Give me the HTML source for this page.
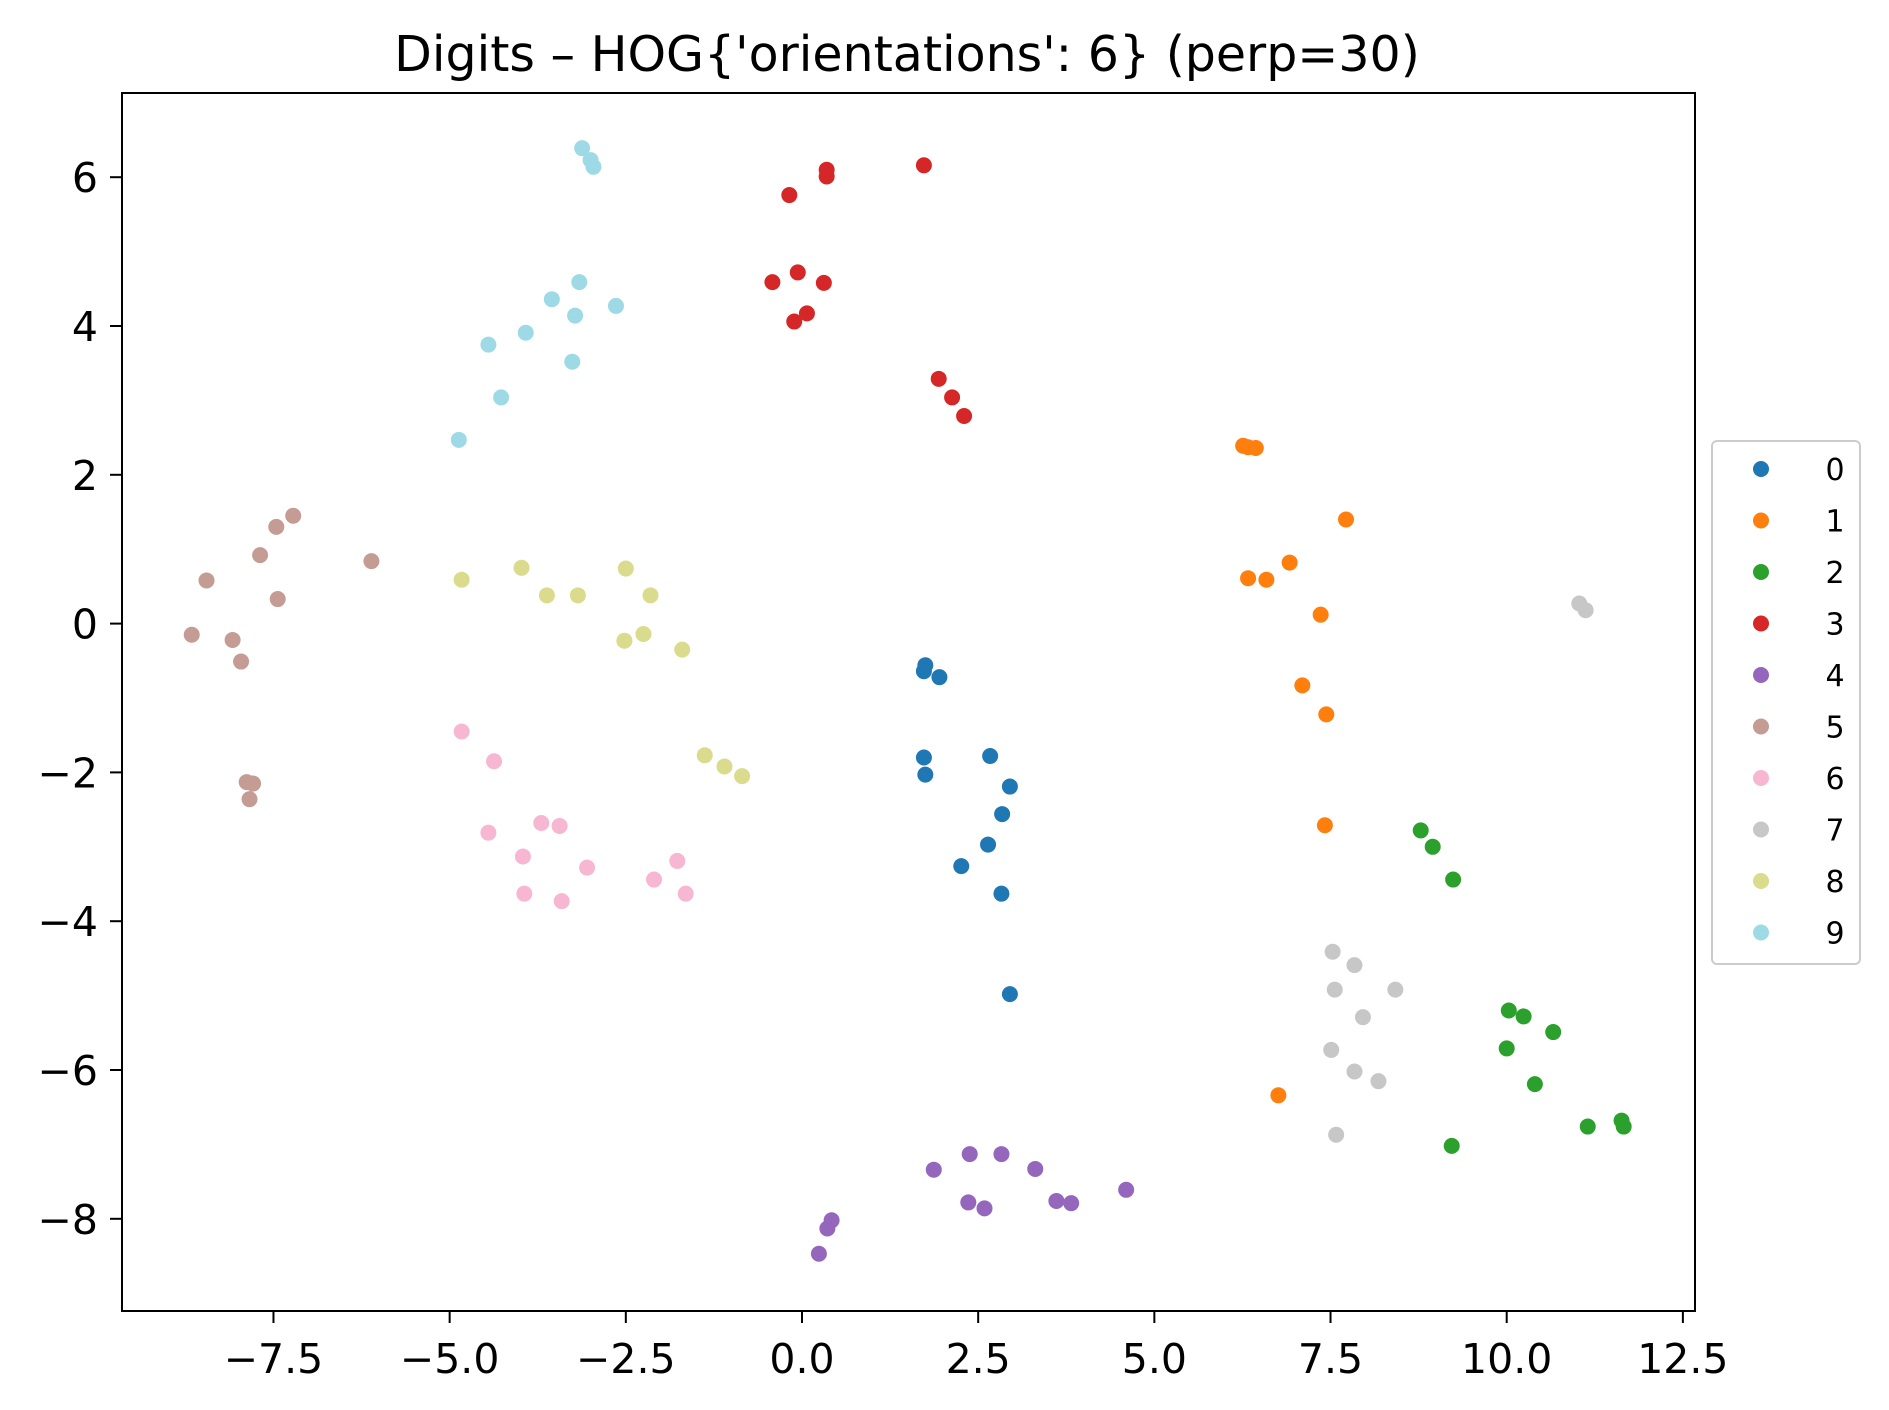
<!DOCTYPE html>
<html><head><meta charset="utf-8"><style>
html,body{margin:0;padding:0;background:#fff;}
svg{display:block;font-family:"DejaVu Sans","Liberation Sans",sans-serif;}
</style></head><body>
<svg id="chart" width="1889" height="1410" viewBox="0 0 1889 1410" xmlns="http://www.w3.org/2000/svg">
<rect width="1889" height="1410" fill="#fff"/>
<text x="907" y="71" font-size="49" text-anchor="middle" fill="#000">Digits – HOG{'orientations': 6} (perp=30)</text>
<g id="points"></g>
<rect x="122" y="93" width="1573" height="1218" fill="none" stroke="#000" stroke-width="2"/>
<g id="xticks"></g>
<g id="yticks"></g>
<g id="legend"></g>
</svg>
<script>
const classLabels = ['0','1','2','3','4','5','6','7','8','9'];
const colors = ['#1f77b4','#ff7f0e','#2ca02c','#d62728','#9467bd','#c49c94','#f7b6d2','#c7c7c7','#dbdb8d','#9edae5'];
const xTicks = [-7.5,-5.0,-2.5,0.0,2.5,5.0,7.5,10.0,12.5];
const yTicks = [6,4,2,0,-2,-4,-6,-8];
const xs0 = [1.75,1.73,1.95,1.73,1.75,2.67,2.95,2.84,2.64,2.26,2.83,2.95];
const ys0 = [-0.56,-0.64,-0.72,-1.8,-2.03,-1.78,-2.19,-2.56,-2.97,-3.26,-3.63,-4.98];
const xs1 = [6.26,6.33,6.44,7.72,6.33,6.59,6.92,7.36,7.1,7.44,7.42,6.76];
const ys1 = [2.39,2.37,2.36,1.4,0.61,0.59,0.82,0.12,-0.83,-1.22,-2.71,-6.34];
const xs2 = [8.78,8.95,9.24,10.03,10.24,10.66,10.0,10.4,11.15,11.63,11.66,9.22];
const ys2 = [-2.78,-3.0,-3.44,-5.2,-5.28,-5.49,-5.71,-6.19,-6.76,-6.68,-6.76,-7.02];
const xs3 = [0.35,0.35,1.73,-0.18,-0.42,-0.06,0.31,0.07,-0.11,1.94,2.13,2.30];
const ys3 = [6.1,6.01,6.16,5.76,4.59,4.72,4.58,4.17,4.06,3.29,3.04,2.79];
const xs4 = [1.87,2.38,2.83,3.31,2.36,2.59,3.61,3.82,4.6,0.42,0.36,0.24];
const ys4 = [-7.34,-7.13,-7.13,-7.33,-7.78,-7.86,-7.76,-7.79,-7.61,-8.02,-8.13,-8.47];
const xs5 = [-7.22,-7.46,-7.69,-8.45,-7.44,-6.11,-8.66,-8.08,-7.96,-7.88,-7.79,-7.84];
const ys5 = [1.45,1.3,0.92,0.58,0.33,0.84,-0.15,-0.22,-0.51,-2.13,-2.15,-2.36];
const xs6 = [-4.83,-4.37,-4.45,-3.7,-3.44,-3.96,-3.05,-3.94,-3.41,-1.77,-2.1,-1.65];
const ys6 = [-1.45,-1.85,-2.81,-2.68,-2.72,-3.13,-3.28,-3.63,-3.73,-3.19,-3.44,-3.63];
const xs7 = [11.03,11.12,7.53,7.84,7.56,8.42,7.96,7.51,7.84,8.18,7.58];
const ys7 = [0.27,0.18,-4.41,-4.59,-4.92,-4.92,-5.29,-5.73,-6.02,-6.15,-6.87];
const xs8 = [-4.83,-3.98,-2.5,-3.62,-3.18,-2.15,-2.25,-2.52,-1.7,-1.38,-1.1,-0.85];
const ys8 = [0.59,0.75,0.74,0.38,0.38,0.38,-0.14,-0.23,-0.35,-1.77,-1.92,-2.05];
const xs9 = [-3.12,-3.0,-2.96,-3.16,-3.55,-2.64,-3.22,-3.92,-4.45,-3.26,-4.27,-4.87];
const ys9 = [6.39,6.23,6.14,4.59,4.36,4.27,4.14,3.91,3.75,3.52,3.04,2.47];
const seriesX = [xs0,xs1,xs2,xs3,xs4,xs5,xs6,xs7,xs8,xs9];
const seriesY = [ys0,ys1,ys2,ys3,ys4,ys5,ys6,ys7,ys8,ys9];

const NS = 'http://www.w3.org/2000/svg';
const sx = v => 802 + v * 70.47;
const sy = v => 623.6 - v * 74.4;
function mk(tag, attrs, parent){ const e=document.createElementNS(NS,tag); for(const k in attrs) e.setAttribute(k,attrs[k]); parent.appendChild(e); return e; }

const pts = document.getElementById('points');
seriesX.forEach((xsArr, c) => {
  xsArr.forEach((xv, i) => {
    const p = mk('circle', {cx: sx(xv), cy: sy(seriesY[c][i]), r: 8, fill: colors[c]}, pts);
    
    
  });
});

const xg = document.getElementById('xticks');
xTicks.forEach(t => {
  const x = sx(t);
  const l = mk('line', {x1:x, y1:1311, x2:x, y2:1323, stroke:'#000', 'stroke-width':2}, xg);
  
  
  const tx = mk('text', {x:x, y:1373, 'font-size':41, 'text-anchor':'middle', fill:'#000'}, xg);
  tx.textContent = t.toFixed(1).replace('-', '−');
  
  
});
const yg = document.getElementById('yticks');
yTicks.forEach(t => {
  const y = sy(t);
  const l = mk('line', {x1:110, y1:y, x2:122, y2:y, stroke:'#000', 'stroke-width':2}, yg);
  
  
  const tx = mk('text', {x:98, y:y+15, 'font-size':41, 'text-anchor':'end', fill:'#000'}, yg);
  tx.textContent = String(t).replace('-', '−');
  
  
});

const lg = document.getElementById('legend');
const box = mk('rect', {x:1712, y:441, width:148, height:523, rx:5, fill:'#fff', stroke:'#ccc', 'stroke-width':2}, lg);


classLabels.forEach((lab, i) => {
  const y = 469 + i * 51.5;
  const m = mk('circle', {cx:1761, cy:y, r:8, fill:colors[i]}, lg);
  
  
  const tx = mk('text', {x:1835, y:y+11, 'font-size':30, 'text-anchor':'middle', fill:'#000'}, lg);
  tx.textContent = lab;
  
  
});
</script>
</body></html>
